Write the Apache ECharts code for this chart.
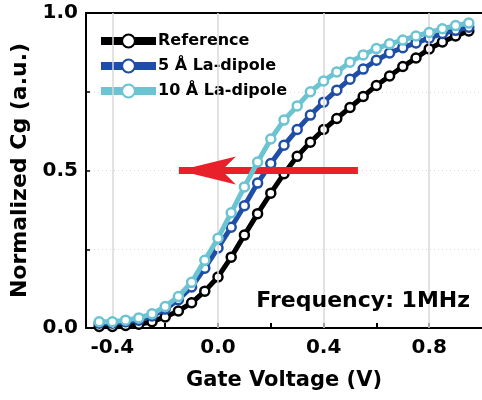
<!DOCTYPE html>
<html>
<head>
<meta charset="utf-8">
<script src="https://cdn.jsdelivr.net/npm/echarts@6/dist/echarts.min.js"></script>
<style>
  html, body { margin: 0; padding: 0; background: #fff; }
  #chart { width: 482px; height: 400px; }
</style>
</head>
<body>
<div id="chart"></div>
<script>
// gate voltage (V)
var voltage = [-0.45, -0.4, -0.35, -0.3, -0.25, -0.2, -0.15, -0.1, -0.05, 0,
    0.05, 0.1, 0.15, 0.2, 0.25, 0.3, 0.35, 0.4, 0.45, 0.5,
    0.55, 0.6, 0.65, 0.7, 0.75, 0.8, 0.85, 0.9, 0.95];

var reference = [0.005, 0.005, 0.008, 0.012, 0.02, 0.035, 0.054, 0.08, 0.117, 0.162,
    0.225, 0.295, 0.363, 0.428, 0.49, 0.545, 0.59, 0.63, 0.665, 0.70,
    0.735, 0.77, 0.80, 0.83, 0.857, 0.886, 0.908, 0.927, 0.943];

var dipole5 = [0.015, 0.015, 0.02, 0.025, 0.038, 0.06, 0.09, 0.13, 0.19, 0.254,
    0.32, 0.388, 0.46, 0.522, 0.58, 0.63, 0.676, 0.717, 0.755, 0.79,
    0.822, 0.85, 0.873, 0.89, 0.905, 0.92, 0.935, 0.945, 0.955];

var dipole10 = [0.02, 0.02, 0.025, 0.032, 0.045, 0.068, 0.10, 0.145, 0.215, 0.285,
    0.366, 0.448, 0.527, 0.60, 0.66, 0.705, 0.75, 0.784, 0.813, 0.844,
    0.867, 0.887, 0.902, 0.914, 0.927, 0.938, 0.95, 0.96, 0.968];

var seriesNames = ['Reference', '5 Å La-dipole', '10 Å La-dipole'];
var seriesColors = ['#000000', '#1f4ea6', '#6cc3d2'];

var xTicks = [-0.4, -0.2, 0, 0.2, 0.4, 0.6, 0.8];
var xLabels = [-0.4, 0, 0.4, 0.8];
var xGridLines = [-0.4, 0, 0.4, 0.8];
var yLabels = [0, 0.5, 1];

// shift arrow: from tail to tip, at Cg = 0.5
var arrowTail = 0.53;
var arrowTip = -0.148;
var arrowLevel = 0.5;

var font = 'DejaVu Sans';

function pairs(ys) {
    var out = [];
    for (var i = 0; i < voltage.length; i++) {
        out.push([voltage[i], ys[i]]);
    }
    return out;
}

function makeSeries(name, color, ys, z) {
    return {
        name: name,
        type: 'line',
        data: pairs(ys),
        z: z,
        symbol: 'circle',
        symbolSize: 9,
        showSymbol: true,
        showAllSymbol: true,
        lineStyle: { color: color, width: 5 },
        itemStyle: { color: '#fff', borderColor: color, borderWidth: 2.5 },
        emphasis: { disabled: true }
    };
}

var chart = echarts.init(document.getElementById('chart'));

// vertical grid lines behind the data (own empty series)
var gridSeries = {
    name: 'grid',
    type: 'line',
    data: [],
    z: 1,
    silent: true,
    markLine: {
        silent: true,
        symbol: ['none', 'none'],
        animation: false,
        label: { show: false },
        lineStyle: { color: '#d9d9d9', type: 'solid', width: 1.5, opacity: 1 },
        emphasis: { disabled: true },
        data: xGridLines.map(function (v) {
            return [{ coord: [v, 0] }, { coord: [v, 1] }];
        })
    }
};

var series = [
    gridSeries,
    makeSeries(seriesNames[0], seriesColors[0], reference, 3),
    makeSeries(seriesNames[1], seriesColors[1], dipole5, 4),
    makeSeries(seriesNames[2], seriesColors[2], dipole10, 5)
];

// red arrow on top
series[3].markLine = {
    silent: true,
    symbol: ['none', 'arrow'],
    symbolSize: [21, 57],
    animation: false,
    label: { show: false },
    lineStyle: { color: '#e8202a', type: 'solid', width: 7 },
    data: [[
        { coord: [arrowTail, arrowLevel] },
        { coord: [arrowTip, arrowLevel] }
    ]]
};

var option = {
    animation: false,
    backgroundColor: '#fff',
    textStyle: { fontFamily: font },
    title: {
        text: 'Frequency: 1MHz',
        right: 12,
        top: 290,
        padding: 0,
        textStyle: { fontFamily: font, fontWeight: 'bold', fontSize: 22, color: '#000' }
    },
    legend: {
        data: seriesNames,
        orient: 'vertical',
        left: 97,
        top: 33,
        itemWidth: 55,
        itemHeight: 16,
        itemGap: 9,
        padding: 0,
        lineStyle: { width: 8 },
        textStyle: { fontFamily: font, fontWeight: 'bold', fontSize: 16, color: '#000', padding: [0, 0, 0, -3] }
    },
    grid: { left: 86, right: 0, top: 13, bottom: 72 },
    xAxis: [{
        type: 'value',
        min: -0.5,
        max: 1.0,
        interval: 0.1,
        name: 'Gate Voltage (V)',
        nameLocation: 'middle',
        nameGap: 42,
        nameTextStyle: { fontFamily: font, fontWeight: 'bold', fontSize: 21, color: '#000' },
        axisLine: { show: true, onZero: false, lineStyle: { color: '#000', width: 2 } },
        axisTick: { show: true, inside: true, length: 5, customValues: xTicks, lineStyle: { color: '#000', width: 2 } },
        axisLabel: {
            customValues: xLabels,
            margin: 10,
            fontFamily: font, fontWeight: 'bold', fontSize: 20, color: '#000',
            formatter: function (v) { return v.toFixed(1); }
        },
        splitLine: { show: false }
    }, {
        type: 'value',
        position: 'top',
        min: -0.5,
        max: 1.0,
        axisLine: { show: true, onZero: false, lineStyle: { color: '#000', width: 2 } },
        axisTick: { show: false },
        axisLabel: { show: false },
        splitLine: { show: false }
    }],
    yAxis: {
        type: 'value',
        min: 0,
        max: 1,
        interval: 0.25,
        name: 'Normalized Cg (a.u.)',
        nameLocation: 'middle',
        nameGap: 50,
        nameTextStyle: { fontFamily: font, fontWeight: 'bold', fontSize: 22, color: '#000' },
        axisLine: { show: true, onZero: false, lineStyle: { color: '#000', width: 2 } },
        axisTick: { show: true, inside: true, length: 4, lineStyle: { color: '#000', width: 1.5 } },
        axisLabel: {
            customValues: yLabels,
            margin: 8,
            fontFamily: font, fontWeight: 'bold', fontSize: 20, color: '#000',
            formatter: function (v) { return v.toFixed(1); }
        },
        splitLine: { show: true, lineStyle: { color: '#d8d8d8', type: [1, 3], width: 1 } }
    },
    series: series
};

chart.setOption(option);
</script>
</body>
</html>
